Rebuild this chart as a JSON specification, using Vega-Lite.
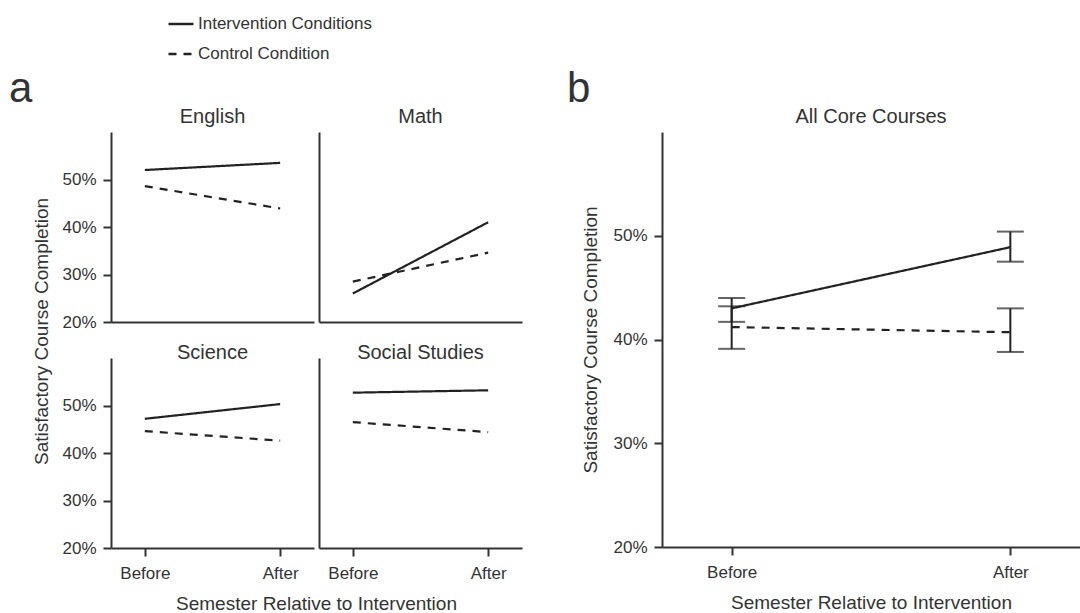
{
  "$schema": "https://vega.github.io/schema/vega-lite/v6.json",
  "padding": {"left": 8, "top": 10, "right": 0, "bottom": 0},
  "background": "white",
  "datasets": {
    "subjects": [
      {"subject": "English", "semester": "Before", "condition": "Intervention Conditions", "pct": 52.0},
      {"subject": "English", "semester": "After", "condition": "Intervention Conditions", "pct": 53.5},
      {"subject": "English", "semester": "Before", "condition": "Control Condition", "pct": 48.6},
      {"subject": "English", "semester": "After", "condition": "Control Condition", "pct": 43.9},
      {"subject": "Math", "semester": "Before", "condition": "Intervention Conditions", "pct": 26.0},
      {"subject": "Math", "semester": "After", "condition": "Intervention Conditions", "pct": 41.0},
      {"subject": "Math", "semester": "Before", "condition": "Control Condition", "pct": 28.5},
      {"subject": "Math", "semester": "After", "condition": "Control Condition", "pct": 34.6},
      {"subject": "Science", "semester": "Before", "condition": "Intervention Conditions", "pct": 47.2},
      {"subject": "Science", "semester": "After", "condition": "Intervention Conditions", "pct": 50.3},
      {"subject": "Science", "semester": "Before", "condition": "Control Condition", "pct": 44.6},
      {"subject": "Science", "semester": "After", "condition": "Control Condition", "pct": 42.6},
      {"subject": "Social Studies", "semester": "Before", "condition": "Intervention Conditions", "pct": 52.7},
      {"subject": "Social Studies", "semester": "After", "condition": "Intervention Conditions", "pct": 53.2},
      {"subject": "Social Studies", "semester": "Before", "condition": "Control Condition", "pct": 46.5},
      {"subject": "Social Studies", "semester": "After", "condition": "Control Condition", "pct": 44.4}
    ],
    "overall": [
      {"semester": "Before", "condition": "Intervention Conditions", "pct": 43.0, "lo": 41.7, "hi": 44.0},
      {"semester": "After", "condition": "Intervention Conditions", "pct": 48.9, "lo": 47.5, "hi": 50.4},
      {"semester": "Before", "condition": "Control Condition", "pct": 41.2, "lo": 39.1, "hi": 43.2},
      {"semester": "After", "condition": "Control Condition", "pct": 40.7, "lo": 38.8, "hi": 43.0}
    ]
  },
  "spacing": 44,
  "resolve": {"scale": {"strokeDash": "shared"}, "legend": {"strokeDash": "shared"}},
  "hconcat": [
    {
      "title": {"text": "a", "anchor": "start", "fontSize": 42, "offset": -4, "dx": -24},
      "vconcat": [
        {
          "title": {"text": "Satisfactory Course Completion", "orient": "left", "fontSize": 19, "offset": 10, "dx": 148},
          "spacing": 13,
          "vconcat": [
            {
              "bounds": "flush",
              "spacing": 5,
              "hconcat": [
                {
                  "title": {"text": "English", "offset": 5},
                  "width": 203, "height": 190,
                  "data": {"name": "subjects"},
                  "transform": [{"filter": "datum.subject === 'English'"}],
                  "mark": {"type": "line", "strokeWidth": 2.2, "color": "#222"},
                  "encoding": {
                    "x": {"field": "semester", "type": "ordinal", "scale": {"type": "point", "domain": ["Before", "After"], "padding": 0.25}, "axis": {"title": null, "labels": false, "ticks": false}},
                    "y": {"field": "pct", "type": "quantitative", "scale": {"domain": [20, 60], "nice": false, "zero": false}, "axis": {"title": null, "values": [20, 30, 40, 50], "labelExpr": "datum.value + '%'"}},
                    "strokeDash": {"field": "condition", "type": "nominal", "scale": {"domain": ["Intervention Conditions", "Control Condition"], "range": [[1, 0], [8, 7]]}, "legend": {"orient": "none", "legendX": 56, "legendY": -122, "title": null}}
                  }
                },
                {
                  "title": {"text": "Math", "offset": 5},
                  "width": 203, "height": 190,
                  "data": {"name": "subjects"},
                  "transform": [{"filter": "datum.subject === 'Math'"}],
                  "mark": {"type": "line", "strokeWidth": 2.2, "color": "#222"},
                  "encoding": {
                    "x": {"field": "semester", "type": "ordinal", "scale": {"type": "point", "domain": ["Before", "After"], "padding": 0.25}, "axis": {"title": null, "labels": false, "ticks": false}},
                    "y": {"field": "pct", "type": "quantitative", "scale": {"domain": [20, 60], "nice": false, "zero": false}, "axis": {"title": null, "labels": false, "ticks": false, "values": [20, 30, 40, 50]}},
                    "strokeDash": {"field": "condition", "type": "nominal"}
                  }
                }
              ]
            },
            {
              "bounds": "flush",
              "spacing": 5,
              "hconcat": [
                {
                  "title": {"text": "Science", "offset": -5},
                  "width": 203, "height": 190,
                  "data": {"name": "subjects"},
                  "transform": [{"filter": "datum.subject === 'Science'"}],
                  "mark": {"type": "line", "strokeWidth": 2.2, "color": "#222"},
                  "encoding": {
                    "x": {"field": "semester", "type": "ordinal", "scale": {"type": "point", "domain": ["Before", "After"], "padding": 0.25}, "axis": {"title": "Semester Relative to Intervention", "titleX": 205, "labelAngle": 0}},
                    "y": {"field": "pct", "type": "quantitative", "scale": {"domain": [20, 60], "nice": false, "zero": false}, "axis": {"title": null, "values": [20, 30, 40, 50], "labelExpr": "datum.value + '%'"}},
                    "strokeDash": {"field": "condition", "type": "nominal"}
                  }
                },
                {
                  "title": {"text": "Social Studies", "offset": -5},
                  "width": 203, "height": 190,
                  "data": {"name": "subjects"},
                  "transform": [{"filter": "datum.subject === 'Social Studies'"}],
                  "mark": {"type": "line", "strokeWidth": 2.2, "color": "#222"},
                  "encoding": {
                    "x": {"field": "semester", "type": "ordinal", "scale": {"type": "point", "domain": ["Before", "After"], "padding": 0.25}, "axis": {"title": null, "labelAngle": 0}},
                    "y": {"field": "pct", "type": "quantitative", "scale": {"domain": [20, 60], "nice": false, "zero": false}, "axis": {"title": null, "labels": false, "ticks": false, "values": [20, 30, 40, 50]}},
                    "strokeDash": {"field": "condition", "type": "nominal"}
                  }
                }
              ]
            }
          ]
        }
      ]
    },
    {
      "title": {"text": "b", "anchor": "start", "fontSize": 42, "offset": -4, "dx": -15},
      "vconcat": [
        {
          "title": {"text": "All Core Courses", "offset": 5},
          "width": 418, "height": 415,
          "data": {"name": "overall"},
          "encoding": {
            "x": {"field": "semester", "type": "ordinal", "scale": {"type": "point", "domain": ["Before", "After"], "padding": 0.25}, "axis": {"title": "Semester Relative to Intervention", "labelAngle": 0}},
            "y": {"field": "pct", "type": "quantitative", "scale": {"domain": [20, 60], "nice": false, "zero": false}, "axis": {"title": "Satisfactory Course Completion", "titlePadding": 12, "values": [20, 30, 40, 50], "labelExpr": "datum.value + '%'"}}
          },
          "layer": [
            {
              "mark": {"type": "line", "strokeWidth": 2.2, "color": "#222"},
              "encoding": {"strokeDash": {"field": "condition", "type": "nominal"}}
            },
            {
              "mark": {"type": "rule", "strokeWidth": 2, "color": "#222"},
              "encoding": {"y": {"field": "lo", "type": "quantitative"}, "y2": {"field": "hi"}}
            },
            {
              "mark": {"type": "tick", "size": 27, "thickness": 2, "color": "#222"},
              "encoding": {"y": {"field": "lo", "type": "quantitative"}}
            },
            {
              "mark": {"type": "tick", "size": 27, "thickness": 2, "color": "#222"},
              "encoding": {"y": {"field": "hi", "type": "quantitative"}}
            }
          ]
        }
      ]
    }
  ],
  "config": {
    "font": "Liberation Sans, Arial, sans-serif",
    "view": {"stroke": null},
    "axis": {
      "grid": false,
      "domainColor": "#333", "domainWidth": 2,
      "tickColor": "#333", "tickWidth": 2, "tickSize": 8,
      "labelFontSize": 17, "labelColor": "#333", "labelPadding": 7,
      "titleFontSize": 19, "titleColor": "#333", "titleFontWeight": "normal", "titlePadding": 6
    },
    "axisX": {"labelPadding": 9, "titlePadding": 13},
    "title": {"fontSize": 20, "fontWeight": "normal", "color": "#333"},
    "legend": {
      "orient": "none", "legendX": 56, "legendY": -122,
      "labelFontSize": 17, "labelColor": "#333", "labelOffset": 3, "labelLimit": 400,
      "symbolType": "stroke", "symbolSize": 625, "symbolStrokeWidth": 2.5, "symbolStrokeColor": "#222",
      "rowPadding": 8, "padding": 0
    }
  }
}
